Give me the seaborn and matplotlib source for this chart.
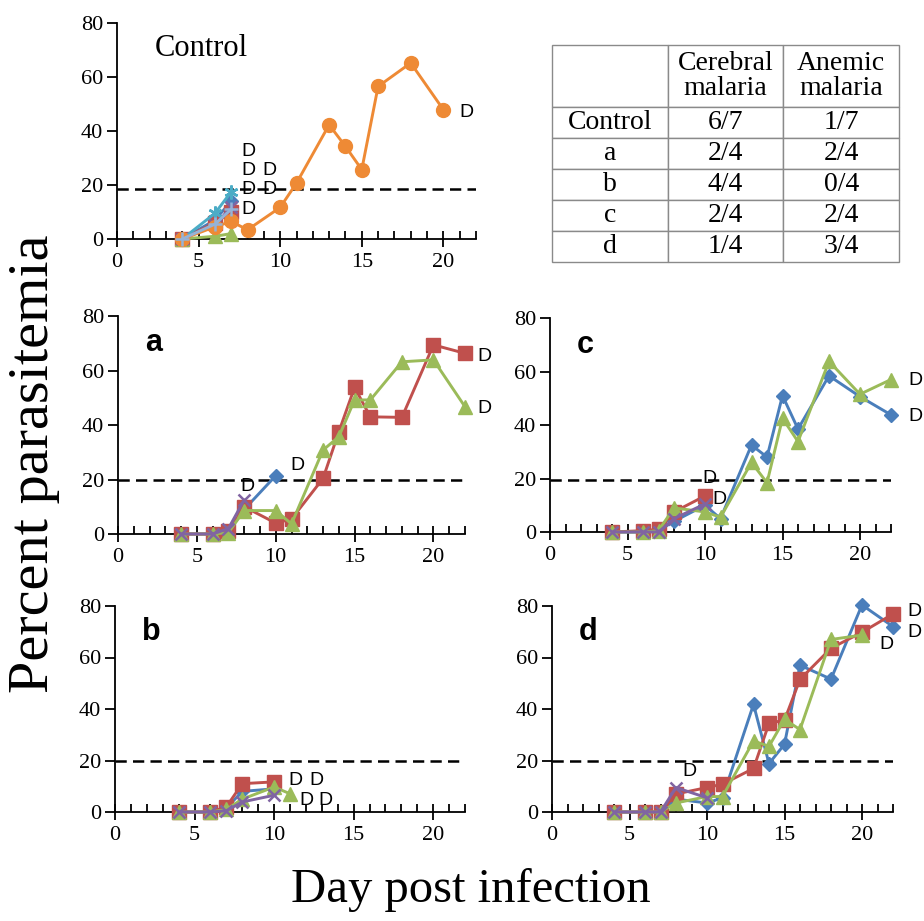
import matplotlib
matplotlib.use("Agg")

import matplotlib.pyplot as plt
import seaborn as sns

sns.set_style("ticks")
SERIF = ["Liberation Serif", "DejaVu Serif"]
SANS = ["Liberation Sans", "DejaVu Sans"]
plt.rcParams["font.family"] = SERIF
plt.rcParams["text.color"] = "black"
plt.rcParams["xtick.color"] = "black"
plt.rcParams["ytick.color"] = "black"
plt.rcParams["axes.labelcolor"] = "black"

BLUE = "#4A7EBB"
RED = "#C0504D"
GREEN = "#9BBB59"
PURPLE = "#8064A2"
AQUA = "#4BACC6"
ORANGE = "#EE8A35"
LIGHT = "#95B3D7"

# ---- data (percent parasitemia by day post infection) ----
days_long = [4, 6, 7, 8, 10, 11, 13, 14, 15, 16, 18, 20, 22]
days_early = [4, 6, 7, 8, 10]

# control
ctrl_days_short = [4, 6, 7]
ctrl_blue = [0, 7, 14]
ctrl_red = [0, 6, 10]
ctrl_green = [0, 1, 2]
ctrl_purple = [0, 5, 12]
ctrl_aqua = [0, 9.5, 17.5]
ctrl_light = [0, 5.5, 11]
ctrl_orange_days = [4, 6, 7, 8, 10, 11, 13, 14, 15, 16, 18, 20]
ctrl_orange = [0, 4.5, 6.5, 3.4, 11.7, 20.7, 42.3, 34.3, 25.7, 56.5, 65.2, 47.9]

# a
a_blue = [0, 0, 1, 9, 21.4]
a_red = [0, 0, 1, 10, 4, 5.5, 20.4, 37.5, 53.8, 43, 42.8, 69.4, 66.3]
a_green = [0, 0, 0.5, 8.6, 8.6, 3.7, 30.8, 35.7, 49.2, 49.2, 63.2, 63.9, 46.7]
a_purple_days = [4, 6, 7, 8]
a_purple = [0, 0, 2, 12.5]

# b
b_blue = [0, 0, 1.5, 8, 9]
b_red = [0, 0, 2, 11, 11.7]
b_green_days = [4, 6, 7, 8, 10, 11]
b_green = [0, 0, 1, 5, 9.7, 7.1]
b_purple = [0, 0, 0.5, 3.9, 6.5]

# c
c_blue = [0, 0, 0.5, 4, 10, 5, 32.5, 28, 51, 38.5, 58.4, 50.6, 43.8]
c_red = [0, 0.5, 1, 7.5, 13.5]
c_green = [0, 0, 0.5, 9, 7.5, 5.5, 26, 18.4, 42.5, 33.8, 63.8, 51.5, 57]
c_purple = [0, 0, 0, 5, 10.5]

# d
d_blue = [0, 0, 0, 5, 3.5, 5.5, 41.8, 18.8, 26.3, 57, 51.6, 80.4, 72]
d_red = [0, 0, 0, 7, 9.5, 10.8, 16.9, 34.4, 35.7, 51.5, 63.6, 69.8, 76.9]
d_green_days = [4, 6, 7, 8, 10, 11, 13, 14, 15, 16, 18, 20]
d_green = [0, 0, 0, 3.5, 6, 6, 27.6, 25.5, 36, 32, 67, 68.7]
d_purple = [0, 0, 0, 9.5, 5.5]

# "D" (death) label positions, data coords
ctrl_deaths = [(7.6, 32.4), (7.6, 25.4), (8.9, 25.4), (7.6, 18.3), (8.9, 18.3), (7.6, 11.1), (21.0, 46.7)]
a_deaths = [(10.9, 25.3), (7.75, 17.4), (22.8, 65), (22.8, 46.1)]
b_deaths = [(10.9, 12.3), (12.2, 12.3), (11.6, 4.5), (12.8, 4.5)]
c_deaths = [(23.1, 43.1), (23.1, 56.8), (9.85, 20), (10.5, 12.3)]
d_deaths = [(22.9, 77.8), (22.9, 69.6), (21.1, 64.9), (8.4, 15.6)]

thresholds = [18.5, 20, 20, 19.5, 20]

table_cols = ["", "Cerebral\nmalaria", "Anemic\nmalaria"]
table_groups = ["Control", "a", "b", "c", "d"]
cerebral = ["6/7", "2/4", "4/4", "2/4", "1/4"]
anemic = ["1/7", "2/4", "0/4", "2/4", "3/4"]

# marker styles: (marker, size, edge width)
STY = {
    BLUE: ("D", 7, 1),
    RED: ("s", 9.5, 1),
    GREEN: ("^", 10, 1),
    PURPLE: ("x", 9, 1.8),
    AQUA: ((6, 2, 0), 10, 1.8),
    ORANGE: ("o", 10, 1),
    LIGHT: ("+", 10, 1.8),
}


def draw_panel(ax, series, thr, deaths, letter=None):
    for days, vals, color in series:
        m, ms, mew = STY[color]
        sns.lineplot(x=days, y=vals, ax=ax, color=color, marker=m, markersize=ms,
                     markeredgecolor=color, markeredgewidth=mew, linewidth=2.1,
                     clip_on=False, legend=False, zorder=3)
    ax.axhline(thr, color="black", ls=(0, (4.5, 2.5)), lw=1.8, zorder=2)
    for x, y in deaths:
        ax.text(x, y, "D", family=SANS, fontsize=14, ha="left", va="center", zorder=5)
    if letter:
        ax.text(1.7, 70, letter, family=SANS, fontsize=22, fontweight="bold",
                ha="left", va="center")
    ax.set_xlim(0, 22)
    ax.set_ylim(0, 80)
    ax.set_xticks([0, 5, 10, 15, 20])
    ax.set_xticks(range(1, 23), minor=True)
    ax.set_yticks([0, 20, 40, 60, 80])
    ax.tick_params(axis="x", which="major", direction="inout", length=12, width=1.3,
                   labelsize=16, pad=4)
    ax.tick_params(axis="x", which="minor", direction="in", length=6, width=1.3)
    ax.tick_params(axis="y", which="major", direction="out", length=7, width=1.3,
                   labelsize=16, pad=3)
    sns.despine(ax=ax)
    for s in ["left", "bottom"]:
        ax.spines[s].set_linewidth(1.3)
        ax.spines[s].set_color("black")
    ax.set_xlabel("")
    ax.set_ylabel("")


W, H = 924, 921
fig = plt.figure(figsize=(W / 100, H / 100), dpi=100)


def add_axes(x0, x22, y0, y80):
    return fig.add_axes([x0 / W, 1 - y0 / H, (x22 - x0) / W, (y0 - y80) / H])


ax_ctrl = add_axes(117, 476, 239, 23)
ax_a = add_axes(118, 465, 534, 316)
ax_c = add_axes(550, 891, 532, 318)
ax_b = add_axes(115, 465, 812, 606)
ax_d = add_axes(552, 893, 812, 606)

draw_panel(ax_ctrl, [
    (ctrl_days_short, ctrl_blue, BLUE),
    (ctrl_days_short, ctrl_red, RED),
    (ctrl_days_short, ctrl_green, GREEN),
    (ctrl_days_short, ctrl_purple, PURPLE),
    (ctrl_days_short, ctrl_aqua, AQUA),
    (ctrl_orange_days, ctrl_orange, ORANGE),
    (ctrl_days_short, ctrl_light, LIGHT),
], thresholds[0], ctrl_deaths)
ax_ctrl.text(2.3, 70.7, "Control", fontsize=22, ha="left", va="center")

draw_panel(ax_a, [
    (days_early, a_blue, BLUE),
    (days_long, a_red, RED),
    (days_long, a_green, GREEN),
    (a_purple_days, a_purple, PURPLE),
], thresholds[1], a_deaths, "a")

draw_panel(ax_b, [
    (days_early, b_blue, BLUE),
    (days_early, b_red, RED),
    (b_green_days, b_green, GREEN),
    (days_early, b_purple, PURPLE),
], thresholds[2], b_deaths, "b")

draw_panel(ax_c, [
    (days_long, c_blue, BLUE),
    (days_early, c_red, RED),
    (days_long, c_green, GREEN),
    (days_early, c_purple, PURPLE),
], thresholds[3], c_deaths, "c")

draw_panel(ax_d, [
    (days_long, d_blue, BLUE),
    (days_long, d_red, RED),
    (d_green_days, d_green, GREEN),
    (days_early, d_purple, PURPLE),
], thresholds[4], d_deaths, "d")

# summary table
ax_t = fig.add_axes([552 / W, 1 - 262 / H, (899 - 552) / W, (262 - 45) / H])
ax_t.axis("off")
cells = [[g, c, a] for g, c, a in zip(table_groups, cerebral, anemic)]
tbl = ax_t.table(cellText=cells, colLabels=table_cols, cellLoc="center",
                 bbox=[0, 0, 1, 1])
tbl.auto_set_font_size(False)
for (r, c), cell in tbl.get_celld().items():
    cell.set_edgecolor("#8a8a8a")
    cell.set_linewidth(1.0)
    cell.set_height(62 if r == 0 else 31)
    cell.set_width(1)
    cell.get_text().set_fontfamily(SERIF)
    cell.get_text().set_fontsize(20)
    cell.get_text().set_color("black")
    cell.get_text().set_linespacing(0.95)

fig.text(0.037, 0.497, "Percent parasitemia", rotation=90, fontsize=42,
         ha="center", va="center")
fig.text(0.509, 0.034, "Day post infection", fontsize=35, ha="center", va="center")

fig.savefig("out.png", dpi=100)
